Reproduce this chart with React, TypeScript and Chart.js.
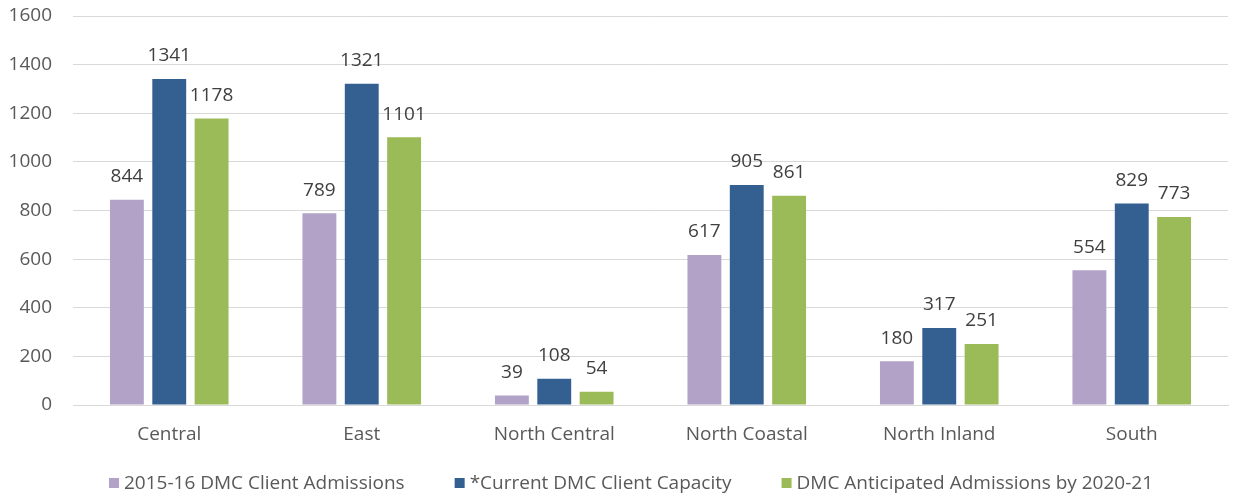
import { useEffect, useRef } from "react";
import { Chart, registerables } from "chart.js";

Chart.register(...registerables);

const categories = ["Central", "East", "North Central", "North Coastal", "North Inland", "South"];
const seriesNames = [
  "2015-16 DMC Client Admissions",
  "*Current DMC Client Capacity",
  "DMC Anticipated Admissions by 2020-21",
];
const admissions2015 = [844, 789, 39, 617, 180, 554];
const currentCapacity = [1341, 1321, 108, 905, 317, 829];
const anticipated2021 = [1178, 1101, 54, 861, 251, 773];
const yMin = 0;
const yMax = 1600;
const yStep = 200;

const COLORS = ["#B3A2C7", "#335F91", "#9BBB59"];
const FONT = "'Open Sans', 'DejaVu Sans', sans-serif";
const TEXT = "#595959";

const dataLabelPlugin = {
  id: "dataLabels",
  afterDatasetsDraw(chart: any) {
    const ctx = chart.ctx;
    ctx.save();
    ctx.font = `19px ${FONT}`;
    ctx.fillStyle = "#404040";
    ctx.textAlign = "center";
    ctx.textBaseline = "middle";
    chart.data.datasets.forEach((ds: any, i: number) => {
      const meta = chart.getDatasetMeta(i);
      meta.data.forEach((el: any, j: number) => {
        ctx.fillText(String(ds.data[j]), el.x, el.y - 23);
      });
    });
    ctx.restore();
  },
};

const legendPlugin = {
  id: "bottomLegend",
  afterDraw(chart: any) {
    const ctx = chart.ctx;
    ctx.save();
    ctx.font = `19px ${FONT}`;
    ctx.textBaseline = "middle";
    ctx.textAlign = "left";
    const box = 10;
    const gapBoxText = 5;
    const gapItems = 50;
    const items = chart.data.datasets.map((ds: any) => ({
      label: ds.label,
      color: ds.backgroundColor,
      w: ctx.measureText(ds.label).width,
    }));
    const total =
      items.reduce((s: number, it: any) => s + box + gapBoxText + it.w, 0) +
      gapItems * (items.length - 1);
    const cy = 483;
    let x = 631 - total / 2;
    items.forEach((it: any) => {
      ctx.fillStyle = it.color;
      ctx.fillRect(x, cy - box / 2, box, box);
      x += box + gapBoxText;
      ctx.fillStyle = TEXT;
      ctx.fillText(it.label, x, cy + 1);
      x += it.w + gapItems;
    });
    ctx.restore();
  },
};

export default function App() {
  const canvasRef = useRef<HTMLCanvasElement | null>(null);

  useEffect(() => {
    if (!canvasRef.current) return;
    const chart = new Chart(canvasRef.current, {
      type: "bar",
      data: {
        labels: categories,
        datasets: [admissions2015, currentCapacity, anticipated2021].map((d, i) => ({
          label: seriesNames[i],
          data: d,
          backgroundColor: COLORS[i],
          borderWidth: 0,
          categoryPercentage: 0.66,
          barPercentage: 0.8,
        })),
      },
      options: {
        animation: false,
        responsive: true,
        maintainAspectRatio: false,
        layout: { padding: { top: 16, bottom: 48, left: 0, right: 5 } },
        plugins: {
          legend: { display: false },
          tooltip: { enabled: false },
        },
        scales: {
          x: {
            grid: { display: false, drawTicks: false },
            border: { display: true, color: "#D9D9D9", width: 1 },
            ticks: {
              color: TEXT,
              font: { family: FONT, size: 19 },
              padding: 18,
              maxRotation: 0,
              autoSkip: false,
            },
            afterFit: (s: any) => {
              s.height = 42;
            },
          },
          y: {
            min: yMin,
            max: yMax,
            grid: { color: "#D9D9D9", lineWidth: 1, drawTicks: false },
            border: { display: false },
            ticks: {
              stepSize: yStep,
              color: TEXT,
              font: { family: FONT, size: 19 },
              padding: 21,
              callback: (v: any) => String(v),
            },
            afterFit: (s: any) => {
              s.width = 73;
              s.paddingTop = 0;
              s.paddingBottom = 0;
            },
          },
        },
      },
      plugins: [dataLabelPlugin, legendPlugin],
    });
    return () => chart.destroy();
  }, []);

  return (
    <div style={{ position: "fixed", left: 0, top: 0, width: 1233, height: 495, background: "#fff" }}>
      <canvas ref={canvasRef} />
    </div>
  );
}
